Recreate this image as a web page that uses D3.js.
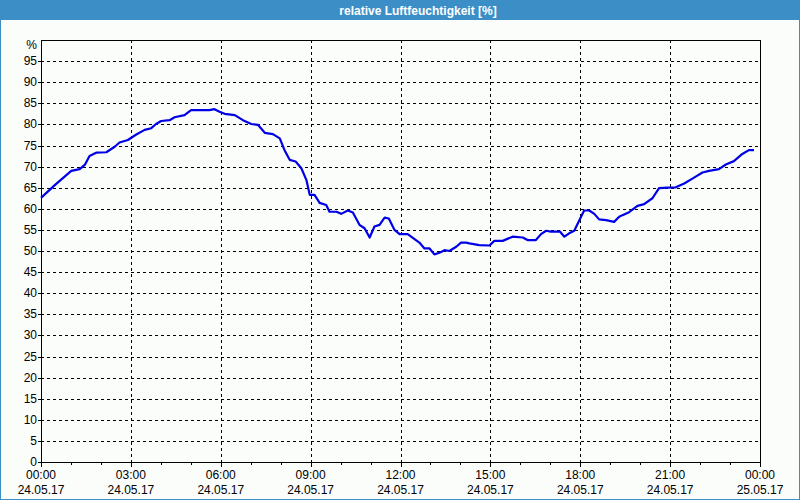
<!DOCTYPE html>
<html><head><meta charset="utf-8">
<script src="https://cdn.jsdelivr.net/npm/d3@7"></script>
<style>
html,body{margin:0;padding:0;background:#fbfdfb;}
svg{display:block;}
text{font-family:"Liberation Sans",Arial,sans-serif;}
</style></head>
<body><svg id="c" width="800" height="500"></svg>
<script>
const title = "relative Luftfeuchtigkeit [%]";
const yUnit = "%";
// time in hours since 24.05.17 00:00
const hours = [0,0.46,1.01,1.29,1.46,1.62,1.84,2.18,2.46,2.62,2.9,3.18,3.46,3.68,3.84,4.01,4.29,4.46,4.79,5.01,5.62,5.79,5.96,6.13,6.47,6.74,7.02,7.24,7.47,7.74,7.97,8.13,8.3,8.5,8.69,8.86,8.97,9.13,9.3,9.52,9.63,9.86,10.02,10.24,10.41,10.63,10.8,10.97,11.13,11.3,11.47,11.61,11.8,11.97,12.24,12.47,12.63,12.8,12.97,13.13,13.3,13.47,13.63,13.86,14.02,14.19,14.3,14.63,14.97,15.13,15.41,15.74,16.08,16.24,16.52,16.69,16.86,17.02,17.32,17.47,17.63,17.8,17.97,18.13,18.3,18.47,18.63,18.86,19.13,19.3,19.41,19.63,19.91,20.13,20.41,20.63,20.91,21.19,21.47,21.8,22.08,22.3,22.63,22.86,23.13,23.41,23.63,23.8];
const humidity = [62.6,65.6,69.0,69.4,70.4,72.5,73.3,73.4,74.7,75.7,76.3,77.6,78.7,79.1,80.1,80.8,81.0,81.7,82.2,83.4,83.4,83.6,83.0,82.5,82.2,81.0,80.1,79.9,78.0,77.7,76.7,73.9,71.6,71.2,69.6,66.8,63.3,63.3,61.4,60.9,59.3,59.3,58.8,59.6,59.1,56.2,55.4,53.2,55.8,56.2,57.9,57.7,55.0,54.0,54.0,52.8,52.0,50.6,50.6,49.2,49.6,50.2,50.0,51.0,52.0,52.0,51.8,51.4,51.3,52.4,52.4,53.4,53.2,52.6,52.6,54.0,54.8,54.6,54.6,53.4,54.2,54.8,57.3,59.6,59.6,58.8,57.5,57.3,56.9,58.1,58.5,59.2,60.7,61.1,62.5,64.9,65.0,65.1,66.0,67.4,68.6,69.0,69.4,70.5,71.3,73.0,73.9,73.9];
const yTicks = [0,5,10,15,20,25,30,35,40,45,50,55,60,65,70,75,80,85,90,95];
const xTickHours = [0,3,6,9,12,15,18,21,24];

const svg = d3.select("#c");
const W = 800, H = 500;
const m = {left:41, right:760, top:40, bottom:462};
const base = new Date(2017,4,24,0,0,0);
const toDate = h => new Date(base.getTime() + h*3600000);

const x = d3.scaleTime().domain([toDate(0), toDate(24)]).range([m.left, m.right]);
const y = d3.scaleLinear().domain([0,100]).range([m.bottom, m.top]);

// frame
svg.append("rect").attr("x",0.5).attr("y",0.5).attr("width",W-1).attr("height",H-1)
  .attr("fill","#fbfdfb").attr("stroke","#3c8fc6");
svg.append("rect").attr("x",0).attr("y",0).attr("width",W).attr("height",20).attr("fill","#3c8fc6");
svg.append("text").attr("x",418).attr("y",14.5).attr("text-anchor","middle")
  .attr("fill","#ffffff").attr("font-weight","bold").attr("font-size","12px").text(title);

const g = svg.append("g");
// horizontal grid
g.selectAll(".hg").data(yTicks.filter(v=>v>0)).enter().append("line")
  .attr("x1",m.left).attr("x2",m.right)
  .attr("y1",d=>Math.round(y(d))+0.5).attr("y2",d=>Math.round(y(d))+0.5)
  .attr("stroke","#000").attr("stroke-width",1).attr("stroke-dasharray","3,3");
// vertical grid
g.selectAll(".vg").data(xTickHours.filter(h=>h>0&&h<24)).enter().append("line")
  .attr("x1",d=>Math.round(x(toDate(d)))+0.5).attr("x2",d=>Math.round(x(toDate(d)))+0.5)
  .attr("y1",m.top).attr("y2",m.bottom)
  .attr("stroke","#000").attr("stroke-width",1).attr("stroke-dasharray","3,3");

// box
g.append("rect").attr("x",m.left+0.5).attr("y",m.top+0.5)
  .attr("width",m.right-m.left).attr("height",m.bottom-m.top)
  .attr("fill","none").attr("stroke","#000").attr("stroke-width",1);

// y ticks & labels
g.selectAll(".yt").data(yTicks).enter().append("line")
  .attr("x1",m.left-3).attr("x2",m.left)
  .attr("y1",d=>Math.round(y(d))+0.5).attr("y2",d=>Math.round(y(d))+0.5)
  .attr("stroke","#000");
g.selectAll(".yl").data(yTicks).enter().append("text")
  .attr("x",37).attr("y",d=>y(d)+4).attr("text-anchor","end")
  .attr("font-size","12px").attr("fill","#000").text(d=>d);
g.append("text").attr("x",37).attr("y",49).attr("text-anchor","end")
  .attr("font-size","12px").attr("fill","#000").text(yUnit);

// x ticks
const hourTicks = d3.range(0,25);
g.selectAll(".xt").data(hourTicks).enter().append("line")
  .attr("x1",d=>Math.round(x(toDate(d)))+0.5).attr("x2",d=>Math.round(x(toDate(d)))+0.5)
  .attr("y1",m.bottom).attr("y2",d=>m.bottom + (d%3===0?5:3))
  .attr("stroke","#000");
const fTime = d3.timeFormat("%H:%M"), fDate = d3.timeFormat("%d.%m.%y");
g.selectAll(".xl1").data(xTickHours).enter().append("text")
  .attr("x",d=>x(toDate(d))).attr("y",479).attr("text-anchor","middle")
  .attr("font-size","12px").attr("fill","#000").text(d=>fTime(toDate(d)));
g.selectAll(".xl2").data(xTickHours).enter().append("text")
  .attr("x",d=>x(toDate(d))).attr("y",494).attr("text-anchor","middle")
  .attr("font-size","12px").attr("fill","#000").text(d=>fDate(toDate(d)));

// line
const data = hours.map((h,i)=>({t:toDate(h), v:humidity[i]}));
g.append("path").datum(data)
  .attr("fill","none").attr("stroke","#0000e6").attr("stroke-width",2.2)
  .attr("stroke-linejoin","round")
  .attr("d", d3.line().x(d=>x(d.t)).y(d=>y(d.v)));
</script></body></html>
